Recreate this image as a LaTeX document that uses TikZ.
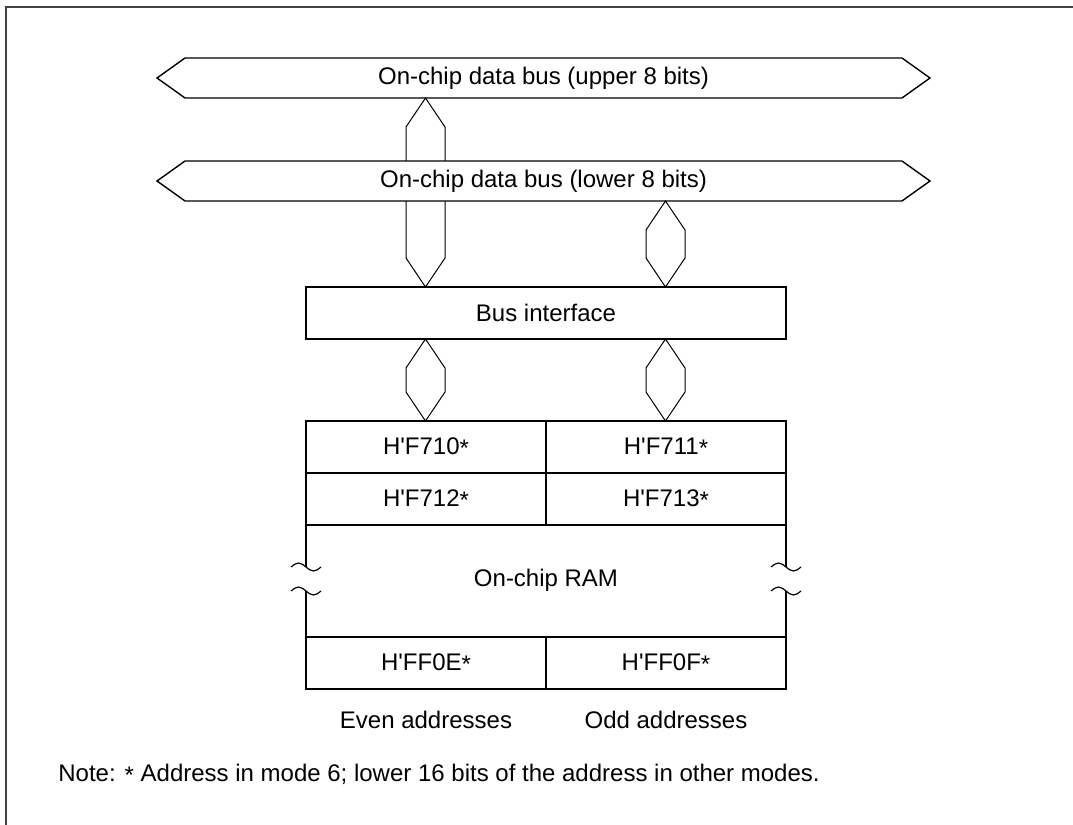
\documentclass[tikz,border=0pt]{standalone}
\usepackage{fontspec}
\setmainfont{Liberation Sans}
\usetikzlibrary{positioning, calc, shapes.arrows}

% straight quote and lowered asterisk of the address labels
\newcommand{\hq}{\textquotesingle}
\newcommand{\astk}{\raisebox{-0.1em}{*}}

% hexagonal bus link between two points (top, bottom)
\newcommand{\hexlink}[2]{%
  \path (#1) coordinate (hA) (#2) coordinate (hB);
  \draw[link] (hA) -- ($(hA)+(-19.5,29)$) -- ($(hB)+(-19.5,-29)$) -- (hB)
    -- ($(hB)+(19.5,-29)$) -- ($(hA)+(19.5,29)$) -- cycle;}

% break mark on a vertical line
\newcommand{\wavy}[1]{%
  \draw[wave] ($(#1)+(-15,0)$) sin ++(7.5,-4) cos ++(7.5,4) sin ++(7.5,4) cos ++(7.5,-4);}

\begin{document}
\begin{tikzpicture}[x=0.5pt, y=-0.5pt]
    \tikzset{
      txt/.style={font=\fontsize{12}{14}\selectfont},
      bus/.style={
        txt, double arrow, draw, fill=white, line width=0.7pt,
        double arrow head extend=0pt, double arrow tip angle=71,
        minimum height=386.5pt, minimum width=20pt,
        inner sep=0pt, outer sep=0pt
      },
      box/.style={
        txt, rectangle, draw, line width=0.8pt,
        minimum width=240pt, minimum height=26pt,
        inner sep=0pt, outer sep=0pt
      },
      cell/.style={box, minimum width=120pt},
      lbl/.style={txt, inner sep=0pt},
      link/.style={line width=0.5pt, line join=miter},
      wave/.style={line width=0.6pt},
      edge/.style={line width=0.8pt},
      frame/.style={line width=1pt, black!75}
    }
    \useasboundingbox (0,0) rectangle (1073,825);
    \draw[frame] (6,825) -- (6,7) -- (1073,7);

    % columns of the links, levels of the breaks
    \coordinate (colL) at (425.5,0);
    \coordinate (colR) at (665.5,0);
    \coordinate (brkA) at (0,567);
    \coordinate (brkB) at (0,591);

    % Buses and interface
    \node[bus] (ubus) at (543.5,78) {On-chip data bus (upper 8 bits)};
    \node[box] (bif) at (546,313) {Bus interface};
    \hexlink{ubus.south -| colL}{bif.north -| colL}
    \node[bus] (lbus) at (543.5,181) {On-chip data bus (lower 8 bits)};
    \hexlink{lbus.south -| colR}{bif.north -| colR}

    % On-chip RAM
    \node[cell] (f710) at (426,447) {H\hq F710\astk};
    \node[cell] (f711) at (666,447) {H\hq F711\astk};
    \node[cell] (f712) at (426,499) {H\hq F712\astk};
    \node[cell] (f713) at (666,499) {H\hq F713\astk};
    \node[cell] (ff0e) at (426,663) {H\hq FF0E\astk};
    \node[cell] (ff0f) at (666,663) {H\hq FF0F\astk};
    \node[lbl] (ram) at (546,580) {On-chip RAM};

    \draw[edge] (f712.south west) -- (f712.south west |- brkA);
    \draw[edge] (ff0e.north west) -- (ff0e.north west |- brkB);
    \draw[edge] (f713.south east) -- (f713.south east |- brkA);
    \draw[edge] (ff0f.north east) -- (ff0f.north east |- brkB);
    \wavy{f712.south west |- brkA}
    \wavy{ff0e.north west |- brkB}
    \wavy{f713.south east |- brkA}
    \wavy{ff0f.north east |- brkB}

    \hexlink{bif.south -| colL}{f710.north -| colL}
    \hexlink{bif.south -| colR}{f711.north -| colR}

    % Labels
    \node[lbl, below=11pt of ff0e] (even) {Even addresses};
    \node[lbl, below=11pt of ff0f] (odd) {Odd addresses};
    \node[lbl, anchor=base west] (note) at (58,781)
      {Note: \astk\ Address in mode 6; lower 16 bits of the address in other modes.};
  \end{tikzpicture}
\end{document}
